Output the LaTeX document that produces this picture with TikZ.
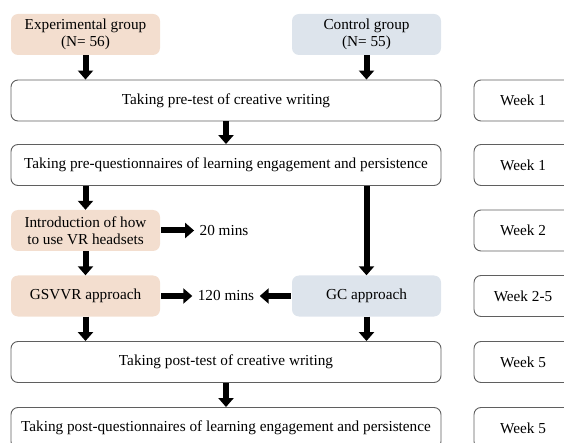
\documentclass[tikz,border=0pt]{standalone}
\usepackage{fontspec}
\setmainfont{Liberation Serif}
\usepackage{tikz}
\usetikzlibrary{arrows.meta}
\definecolor{expfill}{RGB}{243,222,207}
\definecolor{ctlfill}{RGB}{221,228,236}
\definecolor{boxline}{RGB}{95,95,95}

\tikzset{
  mainbox/.style={draw=boxline, line width=0.9pt, rounded corners=7pt, fill=white,
    minimum width=430pt, minimum height=41pt, inner sep=0pt},
  weekbox/.style={mainbox, minimum width=98pt},
  groupbox/.style={rounded corners=7pt, minimum width=149pt, minimum height=41pt,
    inner sep=0pt, align=center},
  blockarrow/.style={line width=6pt, -{Triangle[width=15pt,length=9pt]}}
}

\begin{document}
\begin{tikzpicture}[x=1pt, y=-1pt, font=\fontsize{15.25}{16.5}\selectfont]
    \path[use as bounding box, clip] (0,0) rectangle (564,443);
    % groups
    \node[groupbox, fill=expfill] (exp) at (85.5,34.5) {Experimental group\\(N= 56)};
    \node[groupbox, fill=ctlfill] (ctl) at (366.5,34.5) {Control group\\(N= 55)};
    % main steps
    \node[mainbox] (pre) at (226,100.5) {Taking pre-test of creative writing};
    \node[mainbox] (preq) at (226,165) {Taking pre-questionnaires of learning engagement and persistence};
    \node[groupbox, fill=expfill] (intro) at (85.5,230.5) {Introduction of how\\to use VR headsets};
    \node[groupbox, fill=expfill] (gsvvr) at (85.5,296) {GSVVR approach};
    \node[groupbox, fill=ctlfill] (gc) at (366.5,296) {GC approach};
    \node[mainbox] (post) at (226,362) {Taking post-test of creative writing};
    \node[mainbox] (postq) at (226,428) {Taking post-questionnaires of learning engagement and persistence};
    % durations
    \node (t20) at (224,230.5) {20 mins};
    \node (t120) at (226,296) {120 mins};
    % weeks
    \node[weekbox] (w1) at (523,100.5) {Week 1};
    \node[weekbox] (w1b) at (523,165) {Week 1};
    \node[weekbox] (w2) at (523,230.5) {Week 2};
    \node[weekbox] (w25) at (523,296) {Week 2-5};
    \node[weekbox] (w5) at (523,362) {Week 5};
    \node[weekbox] (w5b) at (523,428) {Week 5};
    % arrows
    \draw[blockarrow] (exp.south) -- (exp.south |- pre.north);
    \draw[blockarrow] (ctl.south) -- (ctl.south |- pre.north);
    \draw[blockarrow] (pre.south) -- (preq.north);
    \draw[blockarrow] (preq.south -| intro.north) -- (intro.north);
    \draw[blockarrow] (preq.south -| gc.north) -- (gc.north);
    \draw[blockarrow] (intro.south) -- (gsvvr.north);
    \draw[blockarrow] ([xshift=1pt]intro.east) -- ([xshift=-2pt]t20.west);
    \draw[blockarrow] ([xshift=1pt]gsvvr.east) -- ([xshift=-2pt]t120.west);
    \draw[blockarrow] ([xshift=-1pt]gc.west) -- ([xshift=2pt]t120.east);
    \draw[blockarrow] (gsvvr.south) -- (gsvvr.south |- post.north);
    \draw[blockarrow] (gc.south) -- (gc.south |- post.north);
    \draw[blockarrow] (post.south) -- (postq.north);
\end{tikzpicture}
\end{document}
